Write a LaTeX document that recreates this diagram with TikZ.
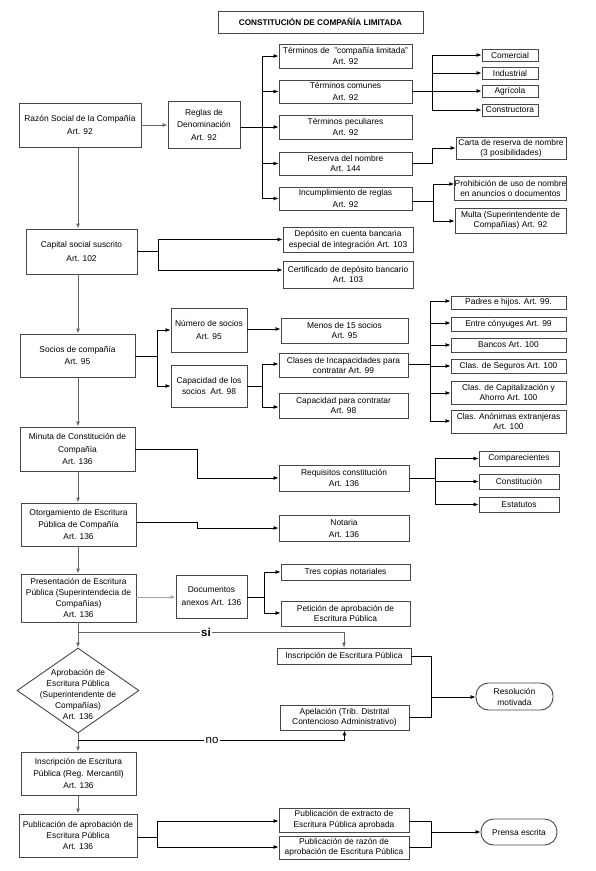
\documentclass[tikz,border=0pt]{standalone}
\usepackage{fontspec}
\setmainfont{Liberation Sans}
\usetikzlibrary{arrows.meta,shapes.geometric}
\begin{document}
\begin{tikzpicture}[x=1pt,y=-1pt,
  box/.style={draw=black!72, line width=0.9pt, fill=white, align=center, inner sep=0pt, font=\fontsize{8.4}{#1}\selectfont},
  box/.default=11,
  stad/.style={box, rounded corners=12.5pt},
  con/.style={draw=black, line width=0.8pt},
  arr/.style={con, -{Latex[length=5pt,width=4pt]}},
  main/.style={draw=black!60, line width=1pt, -{Latex[length=5pt,width=4pt]}},
  lbl/.style={fill=white, inner sep=1.5pt, font=\fontsize{11.5}{12}\selectfont}
]
\useasboundingbox (0,0) rectangle (595,871);
\fill[white] (0,0) rectangle (595,871);

% title
\node[box, minimum width=205, minimum height=22, font=\bfseries\fontsize{8.2}{10}\selectfont] (title) at (320.5,22) {CONSTITUCIÓN DE COMPAÑÍA LIMITADA};

% left column
\coordinate (mx) at (78,0);
\node[box=13.5, minimum width=122, minimum height=44] (razon) at (80,125) {Razón Social de la Compañía\\Art. 92};
\node[box=12.5, minimum width=72, minimum height=47] (reglas) at (204,124.5) {Reglas de\\Denominación\\Art. 92};

\node[box, minimum width=133, minimum height=24] (t1) at (345.5,56) {Términos de~ "compañía limitada"\\Art. 92};
\node[box=12.3, minimum width=133, minimum height=23] (t2) at (345.5,91.5) {Términos comunes\\Art. 92};
\node[box, minimum width=133, minimum height=24] (t3) at (345.5,127) {Términos peculiares\\Art. 92};
\node[box=10.7, minimum width=133, minimum height=23] (t4) at (345.5,163.5) {Reserva del nombre\\Art. 144};
\node[box=11.5, minimum width=133, minimum height=23] (t5) at (345.5,198.5) {Incumplimiento de reglas\\Art. 92};

\node[box, minimum width=56, minimum height=12] (com) at (510,55) {Comercial};
\node[box, minimum width=56, minimum height=12] (ind) at (510,73) {Industrial};
\node[box, minimum width=56, minimum height=12] (agr) at (510,91) {Agrícola};
\node[box, minimum width=56, minimum height=12] (cons) at (510,110) {Constructora};

\node[box=10.3, minimum width=110, minimum height=22] (carta) at (511,148) {Carta de reserva de nombre\\(3 posibilidades)};
\node[box=10, minimum width=111, minimum height=24] (prohib) at (510.5,188) {Prohibición de uso de nombre\\en anuncios o documentos};
\node[box=10.5, minimum width=111, minimum height=25] (multa) at (510.5,220.5) {Multa (Superintendente de\\Compañías) Art. 92};

\node[box=14, minimum width=111, minimum height=45] (capital) at (81.5,251.5) {Capital social suscrito\\Art. 102};
\node[box=10.7, minimum width=130, minimum height=25] (dep) at (348,239.5) {Depósito en cuenta bancaria\\especial de integración Art. 103};
\node[box=10.7, minimum width=130, minimum height=27] (cert) at (348,274.5) {Certificado de depósito bancario\\Art. 103};

\node[box=12, minimum width=115, minimum height=43] (socios) at (77.5,355.5) {Socios de compañía\\Art. 95};
\node[box=12.3, minimum width=76, minimum height=44] (numero) at (209,330) {Número de socios\\Art. 95};
\node[box=11.7, minimum width=76, minimum height=42] (capac) at (209,386) {Capacidad de los\\socios~ Art. 98};
\node[box=10.5, minimum width=127, minimum height=25] (menos) at (344.5,330.5) {Menos de 15 socios\\Art. 95};
\node[box=10, minimum width=129, minimum height=24] (clases) at (343.5,365) {Clases de Incapacidades para\\contratar Art. 99};
\node[box=10.5, minimum width=129, minimum height=25] (capcon) at (343.5,405.5) {Capacidad para contratar\\Art. 98};

\node[box, minimum width=115, minimum height=13] (padres) at (508.5,302.5) {Padres e hijos. Art. 99.};
\node[box, minimum width=115, minimum height=14] (entre) at (508.5,324) {Entre cónyuges Art. 99};
\node[box, minimum width=115, minimum height=14] (bancos) at (508.5,345) {Bancos Art. 100};
\node[box, minimum width=115, minimum height=14] (seguros) at (508.5,366) {Clas. de Seguros Art. 100};
\node[box=10.5, minimum width=115, minimum height=23] (capit) at (508.5,392.5) {Clas. de Capitalización y\\Ahorro Art. 100};
\node[box=10.5, minimum width=115, minimum height=23] (anon) at (508.5,421.5) {Clas. Anónimas extranjeras\\Art. 100};

\node[box=12.5, minimum width=115, minimum height=44] (minuta) at (77.5,449) {Minuta de Constitución de\\Compañía\\Art. 136};
\node[box=10.5, minimum width=130, minimum height=26] (requis) at (344,478) {Requisitos constitución\\Art. 136};
\node[box, minimum width=80, minimum height=15] (compa) at (519,458.5) {Comparecientes};
\node[box, minimum width=80, minimum height=15] (consti) at (519,481.5) {Constitución};
\node[box, minimum width=80, minimum height=15] (estat) at (519,504.5) {Estatutos};

\node[box=11.7, minimum width=115, minimum height=43] (otorg) at (78.5,524.5) {Otorgamiento de Escritura\\Pública de Compañía\\Art. 136};
\node[box=12, minimum width=130, minimum height=26] (notaria) at (344,528) {Notaria\\Art. 136};

\node[box=10.8, minimum width=115, minimum height=48] (pres) at (78.5,598) {Presentación de Escritura\\Pública (Superintendecia de\\Compañías)\\Art. 136};
\node[box=13, minimum width=71, minimum height=43] (docs) at (211.5,596.5) {Documentos\\anexos Art. 136};
\node[box, minimum width=129, minimum height=16] (tres) at (345.5,572) {Tres copias notariales};
\node[box=10.5, minimum width=129, minimum height=25] (petic) at (345.5,613.5) {Petición de aprobación de\\Escritura Pública};

\node[draw=black!72, line width=0.9pt, fill=white, diamond, minimum width=122, minimum height=85, inner sep=0pt] (dia) at (78,690.5) {};
\node[align=center, inner sep=0pt, font=\fontsize{8.4}{11}\selectfont] (diatxt) at (78,694) {Aprobación de\\Escritura Pública\\(Superintendente de\\Compañías)\\Art. 136};

\node[box, minimum width=134, minimum height=16] (insc) at (344,656) {Inscripción de Escritura Pública};
\node[box=10.5, minimum width=129, minimum height=25] (apel) at (344.5,717.5) {Apelación (Trib. Distrital\\Contencioso Administrativo)};
\node[stad=10.5, minimum width=77, minimum height=27] (resol) at (514.5,696.5) {Resolución\\motivada};

\node[box=11.7, minimum width=115, minimum height=43] (inscreg) at (78.5,773.5) {Inscripción de Escritura\\Pública (Reg. Mercantil)\\Art. 136};
\node[box=11, minimum width=118, minimum height=43] (pubap) at (78,835.5) {Publicación de aprobación de\\Escritura Pública\\Art. 136};
\node[box=10.5, minimum width=130, minimum height=24] (pubext) at (344,820) {Publicación de extracto de\\Escritura Pública aprobada};
\node[box=10.5, minimum width=130, minimum height=23] (pubraz) at (344,847.5) {Publicación de razón de\\aprobación de Escritura Pública};
\node[stad, minimum width=76, minimum height=26] (prensa) at (519,832) {Prensa escrita};

% ---- connectors
\draw[main] (razon.east) -- (razon.east -| reglas.west);
\coordinate (jA) at (262,127);
\draw[con] (reglas.east |- jA) -- (jA);
\draw[con] (jA |- t1) -- (jA |- t5);
\foreach \t in {t1,t2,t3,t4,t5} \draw[arr] (jA |- \t.west) -- (\t.west);

\coordinate (jB) at (432,91.5);
\draw[con] (t2.east) -- (jB);
\draw[con] (jB |- com) -- (jB |- cons);
\foreach \t in {com,ind,agr,cons} \draw[arr] (jB |- \t.west) -- (\t.west);

\draw[arr] (t4.east) -- (432,163.5) |- (carta.west);

\coordinate (jC) at (433,201);
\draw[con] (t5.east |- jC) -- (jC);
\draw[con] (433,184) -- (433,221);
\draw[arr] (433,184) -- (prohib.west |- 0,184);
\draw[arr] (433,221) -- (multa.west |- 0,221);

\draw[main] (razon.south -| mx) -- (capital.north -| mx);
\coordinate (jD) at (158,251);
\draw[con] (capital.east |- jD) -- (jD);
\draw[con] (158,239.5) -- (158,270);
\draw[arr] (158,239.5) -- (dep.west);
\draw[arr] (158,270) -- (cert.west |- 0,270);

\draw[main] (capital.south -| mx) -- (socios.north -| mx);
\coordinate (jE) at (157,356);
\draw[con] (socios.east |- jE) -- (jE);
\draw[con] (jE |- numero) -- (jE |- capac);
\draw[arr] (jE |- numero.west) -- (numero.west);
\draw[arr] (jE |- capac.west) -- (capac.west);
\draw[arr] (numero.east |- 0,329) -- (menos.west |- 0,329);

\coordinate (jF) at (262,386);
\draw[con] (capac.east |- jF) -- (jF);
\draw[con] (262,364) -- (262,407);
\draw[arr] (262,364) -- (clases.west |- 0,364);
\draw[arr] (262,407) -- (capcon.west |- 0,407);

\coordinate (jG) at (430,364);
\draw[con] (clases.east |- jG) -- (jG);
\draw[con] (430,301) -- (430,421);
\draw[arr] (430,301) -- (padres.west |- 0,301);
\draw[arr] (430,323) -- (entre.west |- 0,323);
\draw[arr] (430,345) -- (bancos.west |- 0,345);
\draw[arr] (430,366) -- (seguros.west |- 0,366);
\draw[arr] (430,393) -- (capit.west |- 0,393);
\draw[arr] (430,421) -- (anon.west |- 0,421);

\draw[main] (socios.south -| mx) -- (minuta.north -| mx);
\draw[arr] (minuta.east |- 0,449) -- (197,449) |- (requis.west);
\coordinate (jH) at (435,478);
\draw[con] (requis.east) -- (jH);
\draw[con] (jH |- compa) -- (jH |- estat);
\foreach \t in {compa,consti,estat} \draw[arr] (jH |- \t.west) -- (\t.west);

\draw[main] (minuta.south -| mx) -- (otorg.north -| mx);
\draw[arr] (otorg.east |- 0,522) -- (197,522) |- (notaria.west);

\draw[main] (otorg.south -| mx) -- (pres.north -| mx);
\draw[arr, draw=black!35] (pres.east |- 0,597) -- (docs.west |- 0,597);
\coordinate (jI) at (264,597);
\draw[con] (docs.east |- jI) -- (jI);
\draw[con] (264,572) -- (264,613);
\draw[arr] (264,572) -- (tres.west);
\draw[arr] (264,613) -- (petic.west |- 0,613);

\draw[main] (pres.south -| mx) -- (dia.north);
\draw[arr, draw=black!60] (mx |- 0,632) -| (insc.north);
\node[lbl, font=\bfseries\fontsize{11.5}{12}\selectfont] (si) at (206,632) {si};

\draw[main] (dia.south) -- (inscreg.north -| mx);
\draw[arr] (mx |- 0,740) -| (apel.south);
\node[lbl] (no) at (212,740) {no};

\draw[con] (insc.east) -- (431,656) |- (apel.east);
\draw[arr] (431,697) -- (resol.west |- 0,697);

\draw[main] (inscreg.south -| mx) -- (pubap.north -| mx);
\coordinate (jJ) at (157,837);
\draw[con] (pubap.east |- jJ) -- (jJ);
\draw[con] (157,821) -- (157,847);
\draw[arr] (157,821) -- (pubext.west |- 0,821);
\draw[arr] (157,847) -- (pubraz.west |- 0,847);
\draw[con] (pubext.east |- 0,821) -- (431,821) -- (431,847) -- (pubraz.east |- 0,847);
\draw[arr] (431,832) -- (prensa.west);
\end{tikzpicture}
\end{document}
